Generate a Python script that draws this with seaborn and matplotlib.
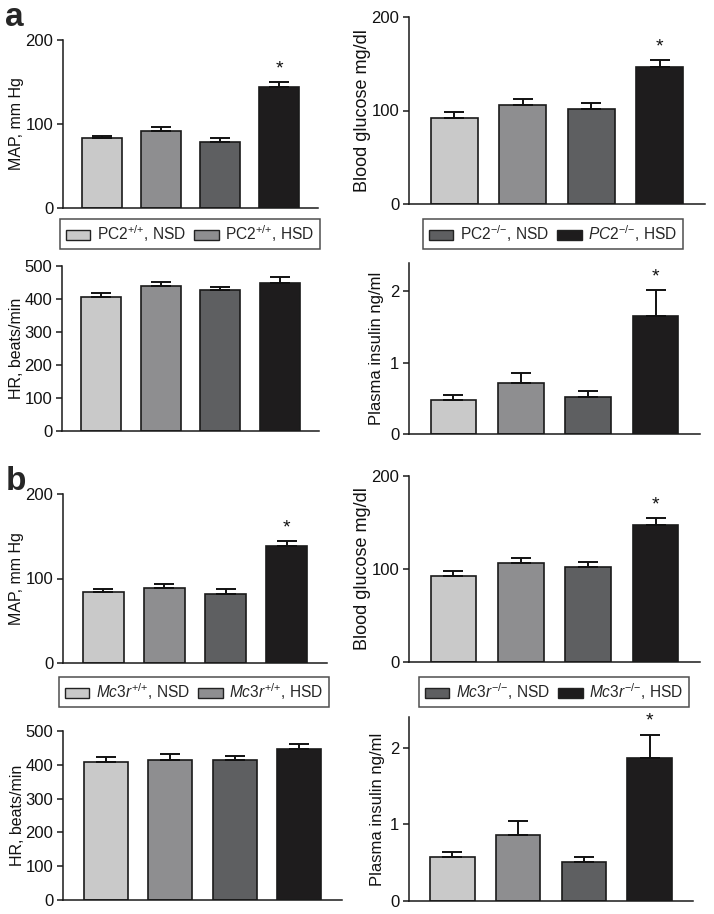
import numpy as np
import pandas as pd
import matplotlib
matplotlib.use("Agg")
import matplotlib.pyplot as plt
import seaborn as sns
from matplotlib.patches import Patch

sns.set_theme(style="ticks")
plt.rcParams['font.family'] = ['Liberation Sans', 'DejaVu Sans']
plt.rcParams['mathtext.fontset'] = 'custom'
plt.rcParams['mathtext.rm'] = 'Liberation Sans'
plt.rcParams['mathtext.it'] = 'Liberation Sans:italic'
plt.rcParams['mathtext.bf'] = 'Liberation Sans:bold'

# ---------------- data ----------------
groups = ["+/+ NSD", "+/+ HSD", "-/- NSD", "-/- HSD"]
colors = ["#c9c9c9", "#8e8e90", "#5e5f61", "#1e1c1d"]

map_a = [83, 92, 79, 144]
map_a_err = [3, 4, 4, 6]
glu_a = [92, 106, 102, 147]
glu_a_err = [6, 6, 6, 7]
hr_a = [407, 438, 426, 450]
hr_a_err = [11, 15, 11, 16]
ins_a = [0.48, 0.71, 0.52, 1.66]
ins_a_err = [0.07, 0.14, 0.08, 0.36]

map_b = [84, 88.5, 82, 138.5]
map_b_err = [4, 4.5, 5, 6]
glu_b = [92, 106, 102, 147]
glu_b_err = [6, 6, 6, 8]
hr_b = [408, 414, 414, 446]
hr_b_err = [15, 18, 12, 16]
ins_b = [0.57, 0.86, 0.51, 1.87]
ins_b_err = [0.07, 0.19, 0.07, 0.30]

legend_a_left = [r"PC2$^{{+}/{+}}$, NSD", r"PC2$^{{+}/{+}}$, HSD"]
legend_a_right = [r"PC2$^{{-}/{-}}$, NSD", r"$\mathit{PC2}^{{-}/{-}}$, HSD"]
legend_b_left = [r"$\mathit{Mc3r}^{{+}/{+}}$, NSD", r"$\mathit{Mc3r}^{{+}/{+}}$, HSD"]
legend_b_right = [r"$\mathit{Mc3r}^{{-}/{-}}$, NSD", r"$\mathit{Mc3r}^{{-}/{-}}$, HSD"]

# ---------------- layout ----------------
W, H = 714, 914
fig = plt.figure(figsize=(W / 100, H / 100), dpi=100)
fig.patch.set_facecolor("white")


def add_ax(l, r, t, b):
    return fig.add_axes([l / W, 1 - b / H, (r - l) / W, (b - t) / H])


def panel(ax, vals, errs, ylim, yticks, ylabel, lsize, star, label_right_px, l, r):
    df = pd.DataFrame({"group": groups, "value": vals})
    sns.barplot(data=df, x="group", y="value", hue="group", order=groups,
                hue_order=groups, palette=colors, width=0.68, dodge=False,
                edgecolor="#1a1a1a", linewidth=1.2, errorbar=None,
                legend=False, ax=ax)
    ax.errorbar(x=np.arange(len(groups)), y=vals,
                yerr=[np.zeros(len(vals)), errs], fmt="none",
                ecolor="#111111", elinewidth=1.4, capsize=7.5, capthick=1.4,
                zorder=5)
    ax.set_xlim(-0.66, 3.66)
    ax.set_ylim(*ylim)
    ax.set_yticks(yticks)
    ax.set_yticklabels([f"{t:g}" for t in yticks])
    ax.set_xticks([])
    ax.set_xlabel("")
    ax.set_ylabel(ylabel, fontsize=lsize, color="#111111")
    ax.yaxis.set_label_coords((label_right_px - l) / (r - l), 0.5)
    for s in ["top", "right"]:
        ax.spines[s].set_visible(False)
    for s in ["left", "bottom"]:
        ax.spines[s].set_linewidth(1.1)
        ax.spines[s].set_color("#1a1a1a")
    ax.tick_params(axis="y", length=4, width=1.1, color="#1a1a1a",
                   labelsize=12, pad=3, labelcolor="#111111")
    ax.set_facecolor("none")
    if star:
        ax.annotate("*", xy=(3, vals[3] + errs[3]), xytext=(0, 3.5),
                    textcoords="offset points", ha="center", va="bottom",
                    fontsize=14, color="#111111")


def legend(labels, cols, cx, cy):
    handles = [Patch(facecolor=c, edgecolor="#222222", linewidth=1.0) for c in cols]
    lg = fig.legend(handles, labels, loc="center", bbox_to_anchor=(cx / W, 1 - cy / H),
                    ncol=2, fontsize=11.2, frameon=True, fancybox=False,
                    handlelength=1.6, handleheight=0.55, handletextpad=0.4,
                    columnspacing=0.55, borderpad=0.33, borderaxespad=0)
    lg.get_frame().set_edgecolor("#222222")
    lg.get_frame().set_linewidth(1.1)
    return lg


# panel a
ax = add_ax(63, 318, 40, 208)
panel(ax, map_a, map_a_err, (0, 200), [0, 100, 200], "MAP, mm Hg", 11.5, True, 24, 63, 318)
ax = add_ax(409, 705, 17, 204)
panel(ax, glu_a, glu_a_err, (0, 200), [0, 100, 200], "Blood glucose mg/dl", 13, True, 371, 409, 705)
ax = add_ax(62, 319, 266, 431)
panel(ax, hr_a, hr_a_err, (0, 500), [0, 100, 200, 300, 400, 500], "HR, beats/min", 11.5, False, 24, 62, 319)
ax = add_ax(409, 700, 263, 434)
panel(ax, ins_a, ins_a_err, (0, 2.4), [0, 1, 2], "Plasma insulin ng/ml", 12, True, 384, 409, 700)

legend(legend_a_left, colors[:2], 190, 234)
legend(legend_a_right, colors[2:], 553, 234)

# panel b
ax = add_ax(63, 327, 494, 663)
panel(ax, map_b, map_b_err, (0, 200), [0, 100, 200], "MAP, mm Hg", 11.5, True, 24, 63, 327)
ax = add_ax(409, 700, 476, 662)
panel(ax, glu_b, glu_b_err, (0, 200), [0, 100, 200], "Blood glucose mg/dl", 13, True, 371, 409, 700)
ax = add_ax(63, 342, 731, 900)
panel(ax, hr_b, hr_b_err, (0, 500), [0, 100, 200, 300, 400, 500], "HR, beats/min", 11.5, False, 25, 63, 342)
ax = add_ax(409, 693, 717, 901)
panel(ax, ins_b, ins_b_err, (0, 2.4), [0, 1, 2], "Plasma insulin ng/ml", 12, True, 385, 409, 693)

legend(legend_b_left, colors[:2], 194, 692)
legend(legend_b_right, colors[2:], 554, 692)

fig.text(5 / W, 1 - 26 / H, "a", fontsize=24, fontweight="bold", ha="left", va="baseline")
fig.text(6 / W, 1 - 490 / H, "b", fontsize=24, fontweight="bold", ha="left", va="baseline")

fig.savefig("out.png", dpi=100, facecolor="white")
